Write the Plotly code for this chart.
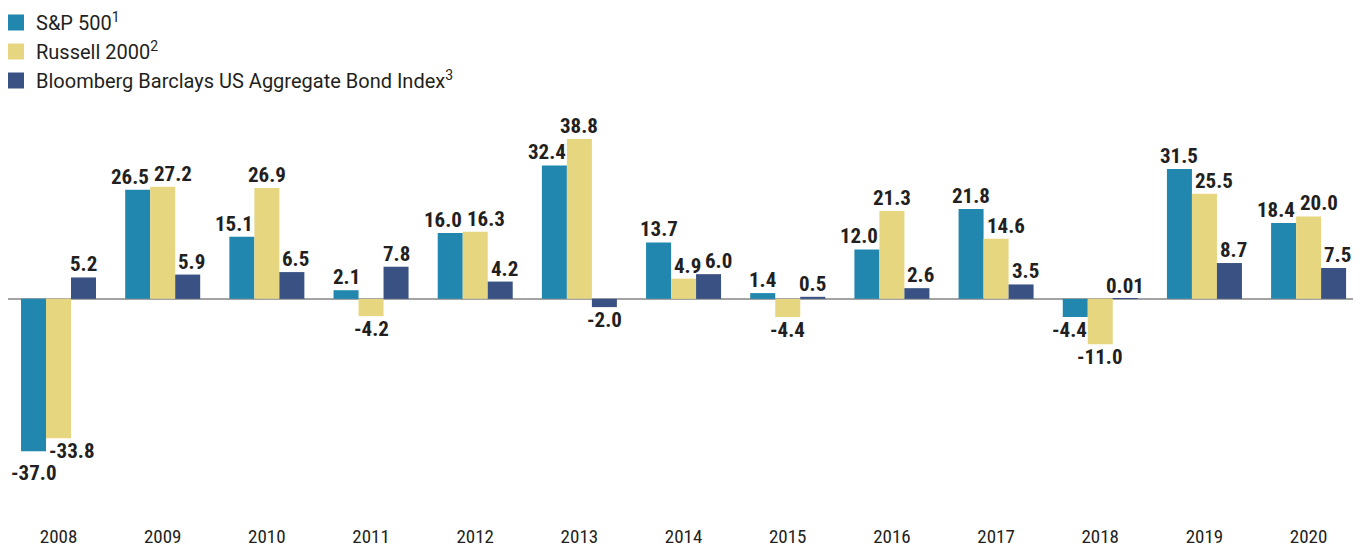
import plotly.graph_objects as go

years = ["2008", "2009", "2010", "2011", "2012", "2013", "2014",
         "2015", "2016", "2017", "2018", "2019", "2020"]
sp500 = [-37.0, 26.5, 15.1, 2.1, 16.0, 32.4, 13.7, 1.4, 12.0, 21.8, -4.4, 31.5, 18.4]
russell = [-33.8, 27.2, 26.9, -4.2, 16.3, 38.8, 4.9, -4.4, 21.3, 14.6, -11.0, 25.5, 20.0]
bonds = [5.2, 5.9, 6.5, 7.8, 4.2, -2.0, 6.0, 0.5, 2.6, 3.5, 0.01, 8.7, 7.5]

names = ["S&P 500<sup>1</sup>", "Russell 2000<sup>2</sup>",
         "Bloomberg Barclays US Aggregate Bond Index<sup>3</sup>"]
colors = ["#2187AF", "#E5D67F", "#3A5283"]
series = [sp500, russell, bonds]

FONT = "Liberation Sans Narrow, Roboto Condensed, Roboto, Arial, sans-serif"
LEGEND_FONT = "Roboto, Arial, sans-serif"
TEXT_COLOR = "#231F20"

# page geometry (the html body adds an 8px margin round the figure)
W, H = 1353, 542
M_L, M_R, M_T, M_B = 0, 0, 110, 27
Y_MIN, Y_MAX = -54.4, 43.9
X_RANGE = [-0.485, 12.503]
BARGAP = 0.28
LABEL_SIZE = 21
LABEL_H = 22

plot_w = W - M_L - M_R
plot_h = H - M_T - M_B
bar_w = plot_w / (X_RANGE[1] - X_RANGE[0]) * (1 - BARGAP) / 3
ppu = plot_h / (Y_MAX - Y_MIN)


def fmt(v):
    # tiny returns keep two decimals (0.01), the rest one
    return f"{v:.2f}" if abs(v) < 0.1 else f"{v:.1f}"


def text_width(s):
    # rough width of a bold label in px
    w = 0
    for ch in s:
        w += 5.5 if ch == "." else 6.5 if ch == "-" else 11
    return w


def label_side(vals, i):
    """Push a label away from a neighbouring bar that reaches past it."""
    v = vals[i]

    def beyond(j):
        w = vals[j]
        return (w > 0) == (v > 0) and abs(w) > abs(v) - 3

    if i == 0:
        return "right" if beyond(1) else "center"
    if i == 2:
        return "left" if beyond(1) else "center"
    if beyond(0):
        return "left"
    if beyond(2):
        return "right"
    return "center"


fig = go.Figure()
for name, vals, color in zip(names, series, colors):
    fig.add_trace(go.Bar(
        x=years, y=vals,
        name=name,
        marker=dict(color=color, line=dict(width=0)),
        showlegend=False,
        hoverinfo="x+y",
    ))
for name, color in zip(names, colors):
    # legend-only entry so the swatch can be a larger square
    fig.add_trace(go.Scatter(
        x=[years[0]], y=[None],
        mode="markers",
        name=name,
        marker=dict(color=color, symbol="square", size=16),
        hoverinfo="skip",
    ))

# value labels, drawn as annotations so they sit above every bar
for j, year in enumerate(years):
    vals = [s[j] for s in series]
    labels = []
    for i, v in enumerate(vals):
        side = label_side(vals, i)
        txt = fmt(v)
        tw = text_width(txt)
        cx = (i - 1) * bar_w
        if side == "right":
            shift = cx + bar_w / 2
            x0 = shift - tw
        elif side == "left":
            shift = cx - bar_w / 2 + 2
            x0 = shift
        else:
            shift = cx
            x0 = cx - tw / 2
        labels.append(dict(v=v, txt=txt, side=side, shift=shift, x0=x0, tw=tw,
                           dy=0.0, y=-v * ppu))

    # untangle adjacent labels on the same side of zero
    for a, b in zip(labels[:-1], labels[1:]):
        if (a["v"] > 0) != (b["v"] > 0):
            continue
        if abs(a["y"] - b["y"]) >= LABEL_H:
            continue
        h_over = a["x0"] + a["tw"] - b["x0"]
        if h_over <= -3:
            continue
        if a["v"] > 0:
            push = h_over + 3
            b["x0"] += push
            b["shift"] += push
        else:
            deep, shallow = (a, b) if a["v"] < b["v"] else (b, a)
            deep["dy"] = -((shallow["y"] + LABEL_H) - deep["y"])

    for lb in labels:
        fig.add_annotation(
            x=j, y=lb["v"],  # category index on the x axis
            xref="x", yref="y",
            text=lb["txt"],
            showarrow=False,
            xanchor=lb["side"],
            yanchor="bottom" if lb["v"] > 0 else "top",
            xshift=lb["shift"],
            yshift=lb["dy"],
            font=dict(family=FONT, size=LABEL_SIZE, color=TEXT_COLOR, weight="bold"),
            borderpad=0,
        )

fig.update_layout(
    width=W, height=H,
    barmode="group",
    bargap=BARGAP,
    bargroupgap=0,
    plot_bgcolor="white",
    paper_bgcolor="white",
    font=dict(family=FONT, color=TEXT_COLOR),
    margin=dict(l=M_L, r=M_R, t=M_T, b=M_B, autoexpand=False),
    showlegend=True,
    legend=dict(
        x=-12 / plot_w, y=1 + (M_T + 5) / plot_h, xref="paper", yref="paper",
        xanchor="left", yanchor="top",
        font=dict(size=20, family=LEGEND_FONT, color=TEXT_COLOR),
        itemwidth=30,
        tracegroupgap=0,
        bgcolor="rgba(0,0,0,0)",
    ),
    xaxis=dict(
        type="category",
        categoryorder="array", categoryarray=years,
        range=X_RANGE,
        showgrid=False, showline=False, ticks="",
        tickfont=dict(size=19, family=FONT, color=TEXT_COLOR),
    ),
    yaxis=dict(
        range=[Y_MIN, Y_MAX],
        showgrid=False, showticklabels=False, ticks="",
        zeroline=True, zerolinecolor="#A3A3A3", zerolinewidth=2,
    ),
)

fig.write_html("out.html")
